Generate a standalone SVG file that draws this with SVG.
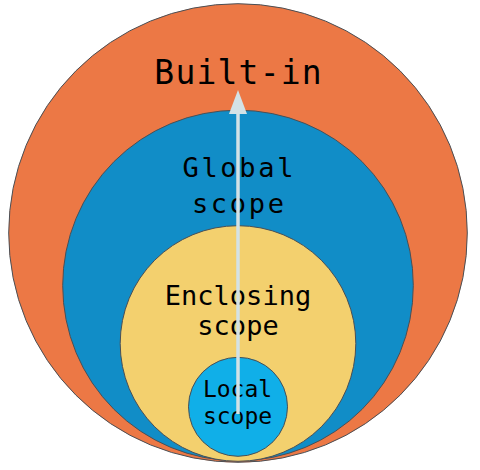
<svg xmlns="http://www.w3.org/2000/svg" width="480" height="470" viewBox="0 0 480 470">
<style>
  .ring { stroke: #4a4f55; stroke-width: 1; }
  .lbl { font-family: "DejaVu Sans Mono", "Liberation Mono", monospace; fill: #000; text-anchor: middle; }
  .arrow { stroke: #d3e2e6; stroke-width: 3.5; fill: none; }
</style>
<defs>
  <marker id="ah" viewBox="0 0 24 18" refX="1" refY="9" markerWidth="24" markerHeight="18" markerUnits="userSpaceOnUse" orient="auto">
    <path d="M0,0 L24,9 L0,18 Z" fill="#d3e2e6"/>
  </marker>
</defs>
<rect width="480" height="470" fill="#ffffff"/>
<g id="builtin">
  <circle class="ring" cx="238" cy="233" r="229.3" fill="#ec7845"/>
  <text class="lbl" x="238.6" y="83.5" font-size="33" letter-spacing="1.2">Built-in</text>
</g>
<g id="global">
  <circle class="ring" cx="238" cy="285.5" r="175.3" fill="#118dc7"/>
  <text class="lbl" x="239.3" y="177.3" font-size="27" letter-spacing="2.7">Global</text>
  <text class="lbl" x="239.3" y="213.3" font-size="27" letter-spacing="2.7">scope</text>
</g>
<g id="enclosing">
  <circle class="ring" cx="238" cy="343.5" r="117.8" fill="#f3d06e"/>
  <text class="lbl" x="238" y="305" font-size="27">Enclosing</text>
  <text class="lbl" x="238" y="335" font-size="27">scope</text>
</g>
<g id="local">
  <circle class="ring" cx="238" cy="406.8" r="49.5" fill="#10afe8"/>
  <text class="lbl" x="237.5" y="397.3" font-size="23">Local</text>
  <text class="lbl" x="237.5" y="424" font-size="23">scope</text>
</g>
<g id="connectors">
  <line class="arrow" x1="238" y1="414" x2="238" y2="113" marker-end="url(#ah)"/>
</g>
</svg>
